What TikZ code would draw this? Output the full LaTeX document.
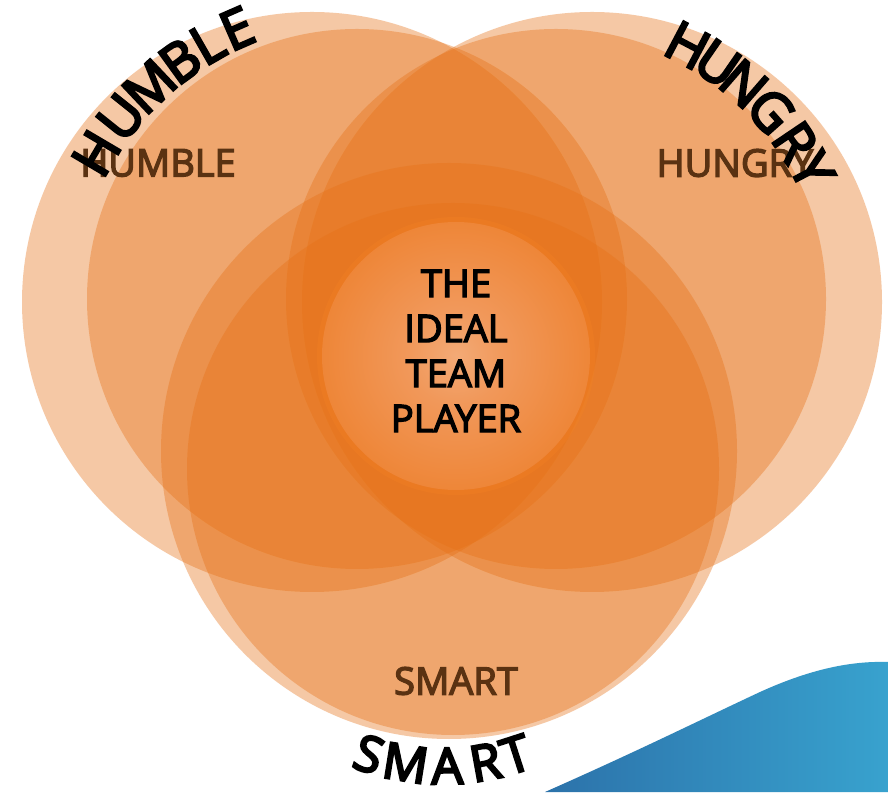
\documentclass[tikz,border=0pt]{standalone}
\usepackage{fontspec}
\setmainfont{Open Sans}
\newfontfamily\labelface{Open Sans}[FakeBold=3.6]
\newfontfamily\titleface{Open Sans}[FakeBold=4.6]
\usetikzlibrary{calc}

\definecolor{petal}{HTML}{E77115}
\definecolor{labelbrown}{HTML}{5A3212}
\definecolor{glowA}{HTML}{F3AA76}
\definecolor{glowB}{HTML}{F1985A}
\definecolor{glowC}{HTML}{EE8536}
\definecolor{glowD}{HTML}{F07F26}
\definecolor{glowE}{HTML}{F38224}
\definecolor{glowF}{HTML}{EC7C2C}
\definecolor{waveL}{HTML}{2C72AA}
\definecolor{waveR}{HTML}{38A2CE}

\pgfdeclareradialshading{centreglow}{\pgfpointorigin}{%
  color(0bp)=(glowA); color(9bp)=(glowB); color(26bp)=(glowC);
  color(41bp)=(glowD); color(47bp)=(glowE); color(50bp)=(glowF)}

\begin{document}
\begin{tikzpicture}[x=1pt,y=1pt,
  petalcircle/.style={fill=petal, fill opacity=0.38},
  inlabel/.style={font=\labelface\fontsize{38}{45}\selectfont, text=labelbrown, inner sep=0},
  corelabel/.style={font=\labelface\fontsize{38}{45}\selectfont, text=black, inner sep=0, align=center},
  bigletter/.style={font=\titleface\fontsize{54}{60}\selectfont, text=black, inner sep=0},
  smallbigletter/.style={font=\titleface\fontsize{50}{56}\selectfont, text=black, inner sep=0},
]
\useasboundingbox (0,0) rectangle (888,792);
\fill[white] (0,0) rectangle (888,792);

% blue wave in the lower right corner
\shade[left color=waveL, right color=waveR]
  (545,0) .. controls (640,42) and (700,72) .. (760,100)
  .. controls (815,125) and (855,131) .. (888,130) -- (888,0) -- cycle;

% three pairs of translucent circles
\fill[petalcircle] (312,490) circle[radius=290];
\fill[petalcircle] (357,493) circle[radius=270];
\fill[petalcircle] (592,490) circle[radius=290];
\fill[petalcircle] (556,493) circle[radius=270];
\fill[petalcircle] (449,341) circle[radius=288];
\fill[petalcircle] (453,323) circle[radius=266];

% glowing centre
\fill[glowE, opacity=0.35] (456,436) circle[radius=139];
\shade[shading=centreglow] (456,436) circle[radius=134];

% labels inside the circles
\node[inlabel] (lblhumble) at (158,629) {HUMBLE};
\node[inlabel] (lblhungry) at (735,629) {HUNGRY};
\node[inlabel] (lblsmart) at (456,111) {SMART};
\node[corelabel] (core) at (456,441) {THE\\IDEAL\\TEAM\\PLAYER};

% curved titles, one letter at a time
\coordinate (humc) at (359,484);
\coordinate (hunc) at (549,484);
\coordinate (smac) at (443,263);
\foreach \ch/\ang [count=\i] in {H/149.5,U/141.3,M/133.4,B/125.9,L/119.8,E/113.6}
  \node[bigletter, rotate=\ang-90] (hum\i) at ([shift={(\ang:305)}]humc) {\ch};
\foreach \ch/\ang [count=\i] in {H/62.2,U/55.4,N/49.0,G/41.6,R/34.0,Y/27.6}
  \node[bigletter, rotate=\ang-90] (hun\i) at ([shift={(\ang:297)}]hunc) {\ch};
\foreach \ch/\ang [count=\i] in {S/251.8,M/260.9,A/271.0,R/280.3,T/287.9}
  \node[smallbigletter, rotate=\ang-270] (sma\i) at ([shift={(\ang:237)}]smac) {\ch};
\end{tikzpicture}
\end{document}
